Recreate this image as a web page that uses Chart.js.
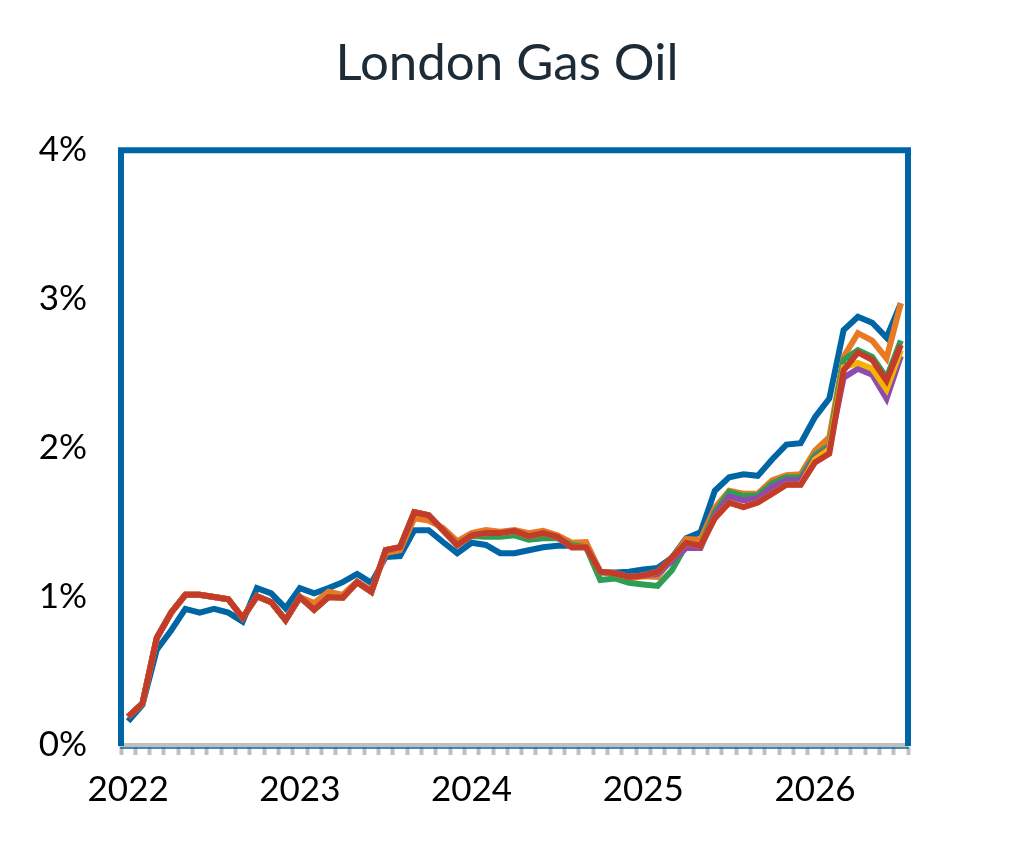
<!DOCTYPE html>
<html>
<head>
<meta charset="utf-8">
<title>London Gas Oil</title>
<script src="https://cdn.jsdelivr.net/npm/chart.js@4.4.1/dist/chart.umd.min.js"></script>
<style>
	html, body { margin: 0; padding: 0; background: #ffffff; }
	#chart-box { width: 1014px; height: 844px; }
</style>
</head>
<body>
<div id="chart-box"><canvas id="gas-oil-chart" width="1014" height="844"></canvas></div>
<script>
// months Jan 2022 .. Jul 2026
const months = [
	"2022-01","2022-02","2022-03","2022-04","2022-05","2022-06","2022-07","2022-08","2022-09","2022-10","2022-11","2022-12",
	"2023-01","2023-02","2023-03","2023-04","2023-05","2023-06","2023-07","2023-08","2023-09","2023-10","2023-11","2023-12",
	"2024-01","2024-02","2024-03","2024-04","2024-05","2024-06","2024-07","2024-08","2024-09","2024-10","2024-11","2024-12",
	"2025-01","2025-02","2025-03","2025-04","2025-05","2025-06","2025-07","2025-08","2025-09","2025-10","2025-11","2025-12",
	"2026-01","2026-02","2026-03","2026-04","2026-05","2026-06","2026-07"
];

const yTicks = [0, 1, 2, 3, 4];

// values in %
const seriesBlue = [
	0.16, 0.27, 0.64, 0.77, 0.915, 0.89, 0.915, 0.89, 0.83, 1.055, 1.02, 0.92,
	1.055, 1.02, 1.055, 1.095, 1.15, 1.09, 1.265, 1.27, 1.445, 1.445, 1.365, 1.29,
	1.36, 1.345, 1.29, 1.29, 1.31, 1.33, 1.34, 1.34, 1.34, 1.16, 1.16, 1.165,
	1.18, 1.19, 1.26, 1.39, 1.43, 1.71, 1.80, 1.82, 1.81, 1.92, 2.02, 2.03,
	2.205, 2.33, 2.79, 2.88, 2.84, 2.74, 2.97
];
const seriesOrange = [
	0.19, 0.28, 0.72, 0.89, 1.01, 1.01, 0.995, 0.98, 0.855, 1.0, 0.96, 0.84,
	0.995, 0.955, 1.03, 1.01, 1.10, 1.04, 1.29, 1.31, 1.525, 1.51, 1.46, 1.37,
	1.425, 1.445, 1.435, 1.445, 1.425, 1.44, 1.41, 1.36, 1.365, 1.165, 1.15, 1.12,
	1.135, 1.13, 1.255, 1.385, 1.38, 1.595, 1.71, 1.69, 1.69, 1.78, 1.815, 1.82,
	1.98, 2.07, 2.61, 2.77, 2.72, 2.60, 2.97
];
const seriesGreen = [
	0.19, 0.28, 0.72, 0.89, 1.01, 1.01, 0.995, 0.98, 0.855, 1.0, 0.96, 0.84,
	0.995, 0.91, 0.995, 0.99, 1.095, 1.03, 1.31, 1.33, 1.565, 1.545, 1.445, 1.345,
	1.405, 1.40, 1.40, 1.41, 1.38, 1.39, 1.39, 1.345, 1.33, 1.11, 1.12, 1.09,
	1.08, 1.07, 1.175, 1.345, 1.34, 1.565, 1.70, 1.675, 1.68, 1.76, 1.80, 1.80,
	1.95, 2.015, 2.59, 2.655, 2.61, 2.47, 2.72
];
const seriesPurple = [
	0.19, 0.28, 0.72, 0.89, 1.01, 1.01, 0.995, 0.98, 0.855, 1.0, 0.96, 0.84,
	0.995, 0.91, 0.995, 0.99, 1.095, 1.03, 1.31, 1.33, 1.565, 1.545, 1.445, 1.345,
	1.41, 1.425, 1.425, 1.44, 1.405, 1.425, 1.40, 1.33, 1.33, 1.165, 1.155, 1.13,
	1.14, 1.15, 1.24, 1.325, 1.325, 1.545, 1.67, 1.645, 1.66, 1.735, 1.78, 1.78,
	1.93, 2.0, 2.47, 2.53, 2.49, 2.33, 2.615
];
const seriesYellow = [
	0.19, 0.28, 0.72, 0.89, 1.01, 1.01, 0.995, 0.98, 0.855, 1.0, 0.96, 0.84,
	0.995, 0.91, 0.995, 0.99, 1.095, 1.03, 1.31, 1.33, 1.565, 1.545, 1.445, 1.345,
	1.41, 1.425, 1.425, 1.44, 1.405, 1.425, 1.40, 1.33, 1.33, 1.165, 1.155, 1.13,
	1.14, 1.165, 1.26, 1.36, 1.34, 1.525, 1.63, 1.60, 1.63, 1.69, 1.75, 1.75,
	1.92, 1.99, 2.54, 2.57, 2.53, 2.39, 2.655
];
const seriesRed = [
	0.19, 0.28, 0.72, 0.89, 1.01, 1.01, 0.995, 0.98, 0.855, 1.0, 0.96, 0.84,
	0.995, 0.91, 0.995, 0.99, 1.095, 1.03, 1.31, 1.33, 1.565, 1.545, 1.445, 1.345,
	1.41, 1.425, 1.425, 1.44, 1.405, 1.425, 1.40, 1.33, 1.33, 1.165, 1.155, 1.13,
	1.14, 1.165, 1.26, 1.36, 1.34, 1.525, 1.63, 1.60, 1.63, 1.69, 1.75, 1.75,
	1.90, 1.96, 2.52, 2.64, 2.59, 2.45, 2.69
];

const FONT = "Lato, 'Noto Sans', sans-serif";
const FRAME_BLUE = "#0065a5";
const AXIS_GREY = "#bfbfbf";

// blue box round the plot area (bottom edge is the grey axis)
const framePlugin = {
	id: "frame",
	beforeDatasetsDraw(chart) {
		const { ctx, chartArea: a } = chart;
		ctx.save();
		ctx.strokeStyle = FRAME_BLUE;
		ctx.lineWidth = 6;
		ctx.lineCap = "square";
		ctx.beginPath();
		ctx.moveTo(a.left, a.bottom - 2);
		ctx.lineTo(a.left, a.top);
		ctx.lineTo(a.right, a.top);
		ctx.lineTo(a.right, a.bottom - 2);
		ctx.stroke();
		ctx.lineWidth = 1.5;
		ctx.beginPath();
		ctx.moveTo(a.left, a.bottom + 3);
		ctx.lineTo(a.right, a.bottom + 3);
		ctx.stroke();
		ctx.restore();
	}
};

function line(label, values, color) {
	return {
		label: label,
		data: values,
		borderColor: color,
		backgroundColor: color,
		borderWidth: 6,
		pointRadius: 0,
		tension: 0,
		fill: false
	};
}

// dataset 0 is drawn on top
new Chart(document.getElementById("gas-oil-chart"), {
	type: "line",
	data: {
		labels: months,
		datasets: [
			line("Series 6", seriesRed, "#c33b2b"),
			line("Series 5", seriesYellow, "#f4b400"),
			line("Series 4", seriesPurple, "#8e4bad"),
			line("Series 3", seriesGreen, "#2f9e55"),
			line("Series 2", seriesOrange, "#e97a24"),
			line("Series 1", seriesBlue, "#0065a5")
		]
	},
	options: {
		responsive: false,
		animation: false,
		devicePixelRatio: 1,
		layout: { padding: 0 },
		plugins: {
			legend: { display: false },
			tooltip: { enabled: false },
			title: {
				display: true,
				text: "London Gas Oil",
				color: "#1c2b36",
				font: { family: FONT, size: 51, weight: "normal", lineHeight: 1.2 },
				padding: { top: 33, bottom: 56 }
			}
		},
		scales: {
			x: {
				type: "category",
				offset: true,
				afterFit: (s) => { s.height = 99; },
				border: { display: true, color: AXIS_GREY, width: 4 },
				grid: {
					display: true,
					offset: true,
					drawOnChartArea: false,
					drawTicks: true,
					tickLength: 10,
					tickWidth: 4,
					tickColor: AXIS_GREY
				},
				ticks: {
					autoSkip: false,
					maxRotation: 0,
					padding: 14,
					color: "#000000",
					font: { family: FONT, size: 35 },
					callback: function (value, index) {
						const m = months[index];
						return m.endsWith("-01") ? m.slice(0, 4) : "";
					}
				}
			},
			y: {
				min: yTicks[0],
				max: yTicks[yTicks.length - 1],
				afterFit: (s) => { s.width = 121; },
				afterBuildTicks: (s) => { s.ticks = yTicks.map(v => ({ value: v })); },
				border: { display: false },
				grid: { display: false },
				ticks: {
					padding: 26,
					color: "#000000",
					font: { family: FONT, size: 35 },
					callback: (v) => v + "%"
				}
			},
			// empty right-hand margin so the title sits at the page centre
			yRight: {
				position: "right",
				min: 0,
				max: 4,
				afterFit: (s) => { s.width = 106; },
				border: { display: false },
				grid: { display: false },
				ticks: { display: false }
			}
		}
	},
	plugins: [framePlugin]
});
</script>
</body>
</html>
